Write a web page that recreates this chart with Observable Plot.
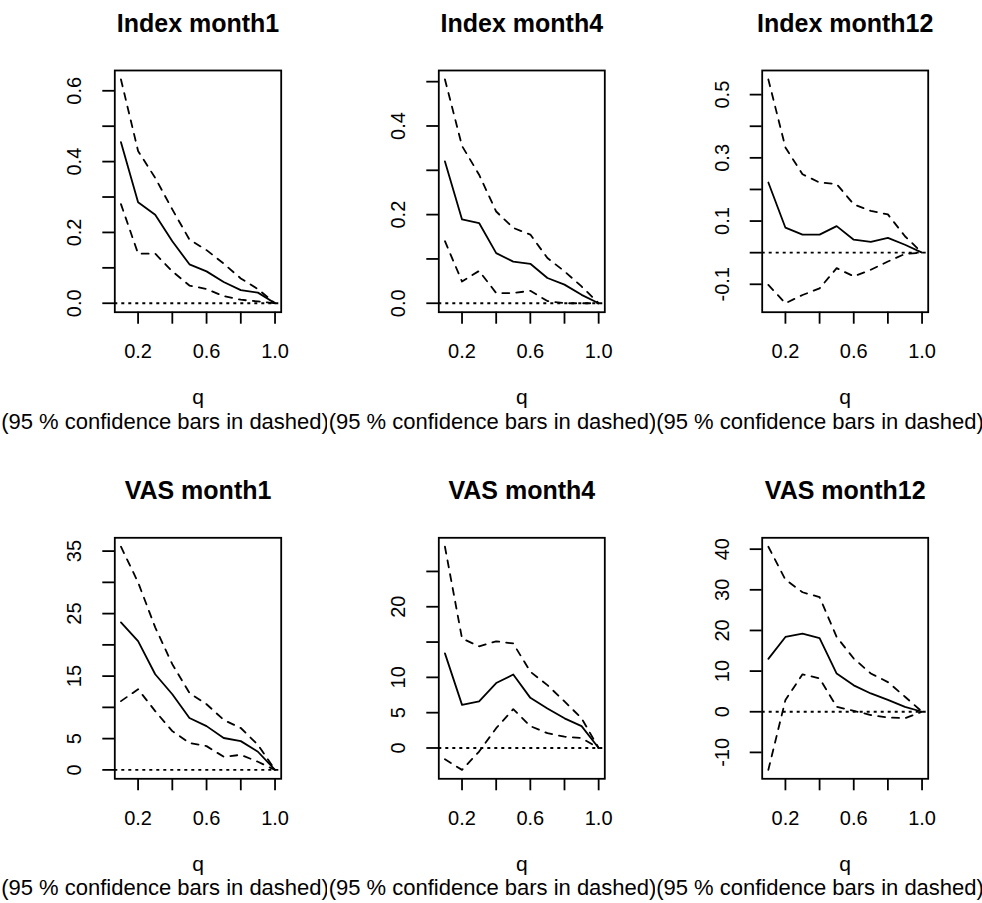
<!DOCTYPE html>
<html>
<head>
<meta charset="utf-8">
<script src="https://cdn.jsdelivr.net/npm/d3@7"></script>
<script src="https://cdn.jsdelivr.net/npm/@observablehq/plot@0.6"></script>
<style>
  html, body { margin: 0; padding: 0; background: #fff; }
  #wrap { position: relative; width: 982px; height: 903px; overflow: hidden; background: #fff; }
  #wrap svg { position: absolute; }
</style>
</head>
<body>
<div id="wrap"></div>
<script>
// ---------- data ----------
const q = [0.1, 0.2, 0.3, 0.4, 0.5, 0.6, 0.7, 0.8, 0.9, 1.0];

const titles = ["Index month1", "Index month4", "Index month12", "VAS month1", "VAS month4", "VAS month12"];
const xLabel = "q";
const subtitle = "(95 % confidence bars in dashed)";

const xTicks = [0.2, 0.4, 0.6, 0.8, 1.0];
const xTickLabels = ["0.2", "", "0.6", "", "1.0"];

// Index month1
const index1Est = [0.455, 0.285, 0.25, 0.175, 0.11, 0.09, 0.06, 0.037, 0.03, 0];
const index1Lo  = [0.28, 0.14, 0.14, 0.09, 0.05, 0.04, 0.02, 0.01, 0.005, 0];
const index1Hi  = [0.632, 0.43, 0.354, 0.265, 0.18, 0.15, 0.112, 0.07, 0.04, 0];
const index1Ticks = [0, 0.1, 0.2, 0.3, 0.4, 0.5, 0.6];
const index1LabelVals = [0, 0.2, 0.4, 0.6];
const index1Labels = ["0.0", "0.2", "0.4", "0.6"];

// Index month4
const index4Est = [0.32, 0.189, 0.181, 0.113, 0.094, 0.089, 0.057, 0.042, 0.019, 0];
const index4Lo  = [0.14, 0.049, 0.073, 0.023, 0.023, 0.028, 0.005, 0, 0, 0];
const index4Hi  = [0.505, 0.355, 0.29, 0.207, 0.17, 0.155, 0.102, 0.072, 0.038, 0];
const index4Ticks = [0, 0.1, 0.2, 0.3, 0.4, 0.5];
const index4LabelVals = [0, 0.2, 0.4];
const index4Labels = ["0.0", "0.2", "0.4"];

// Index month12
const index12Est = [0.222, 0.079, 0.057, 0.057, 0.084, 0.041, 0.034, 0.047, 0.025, 0];
const index12Lo  = [-0.102, -0.16, -0.134, -0.113, -0.049, -0.075, -0.054, -0.028, -0.004, 0];
const index12Hi  = [0.548, 0.333, 0.248, 0.222, 0.217, 0.153, 0.132, 0.121, 0.052, 0];
const index12Ticks = [-0.1, 0, 0.1, 0.2, 0.3, 0.4, 0.5];
const index12LabelVals = [-0.1, 0.1, 0.3, 0.5];
const index12Labels = ["-0.1", "0.1", "0.3", "0.5"];

// VAS month1
const vas1Est = [23.6, 20.6, 15.3, 12.1, 8.3, 7.0, 5.1, 4.6, 2.9, 0];
const vas1Lo  = [11, 12.9, 9.4, 6.2, 4.3, 3.8, 2.1, 2.4, 1.3, 0];
const vas1Hi  = [35.7, 30, 22.8, 16.9, 12.3, 10.5, 8.0, 6.7, 4.0, 0];
const vas1Ticks = [0, 5, 10, 15, 20, 25, 30, 35];
const vas1LabelVals = [0, 5, 15, 25, 35];
const vas1Labels = ["0", "5", "15", "25", "35"];

// VAS month4
const vas4Est = [13.4, 6.1, 6.6, 9.2, 10.4, 7.1, 5.6, 4.2, 3.1, 0];
const vas4Lo  = [-1.6, -3.1, -0.5, 2.8, 5.5, 3.1, 2.1, 1.6, 1.4, 0];
const vas4Hi  = [28.5, 15.5, 14.4, 15.1, 14.8, 10.8, 8.9, 6.6, 4.2, 0];
const vas4Ticks = [0, 5, 10, 15, 20, 25];
const vas4LabelVals = [0, 5, 10, 20];
const vas4Labels = ["0", "5", "10", "20"];

// VAS month12
const vas12Est = [13, 18.4, 19.2, 18.1, 9.4, 6.5, 4.5, 2.9, 1.2, 0];
const vas12Lo  = [-14.3, 2.9, 9.2, 8.2, 1.2, 0.2, -0.8, -1.4, -1.6, 0];
const vas12Hi  = [40.6, 32.5, 29.4, 28.2, 18.4, 13.1, 9.4, 7.3, 3.7, 0];
const vas12Ticks = [-10, 0, 10, 20, 30, 40];
const vas12LabelVals = [-10, 0, 10, 20, 30, 40];
const vas12Labels = ["-10", "0", "10", "20", "30", "40"];

// ---------- panels ----------
const panels = [
  {title: titles[0], est: index1Est, lo: index1Lo, hi: index1Hi, ticks: index1Ticks, labelVals: index1LabelVals, labels: index1Labels},
  {title: titles[1], est: index4Est, lo: index4Lo, hi: index4Hi, ticks: index4Ticks, labelVals: index4LabelVals, labels: index4Labels},
  {title: titles[2], est: index12Est, lo: index12Lo, hi: index12Hi, ticks: index12Ticks, labelVals: index12LabelVals, labels: index12Labels},
  {title: titles[3], est: vas1Est, lo: vas1Lo, hi: vas1Hi, ticks: vas1Ticks, labelVals: vas1LabelVals, labels: vas1Labels},
  {title: titles[4], est: vas4Est, lo: vas4Lo, hi: vas4Hi, ticks: vas4Ticks, labelVals: vas4LabelVals, labels: vas4Labels},
  {title: titles[5], est: vas12Est, lo: vas12Lo, hi: vas12Hi, ticks: vas12Ticks, labelVals: vas12LabelVals, labels: vas12Labels}
];

// ---------- layout (page pixels) ----------
const colFig = [[0, 327], [327, 328], [655, 327]];
const colBox = [[114.3, 280.7], [438.3, 604.3], [761.7, 927.7]];
const rowFig = [[0, 451], [451, 452]];
const rowBox = [[70, 311.7], [537.3, 778.3]];

const font = "'Liberation Sans', Arial, Helvetica, sans-serif";
const lw = 1.8;
const wrap = document.getElementById("wrap");

panels.forEach((p, i) => {
  const r = Math.floor(i / 3), c = i % 3;
  const [fl, fw] = colFig[c];
  const [ft, fh] = rowFig[r];
  const [bl, br] = colBox[c];
  const [bt, bb] = rowBox[r];

  const all = [...p.est, ...p.lo, ...p.hi];
  const ymin = d3.min(all), ymax = d3.max(all), ypad = (ymax - ymin) * 0.04;
  const xmin = d3.min(q), xmax = d3.max(q), xpad = (xmax - xmin) * 0.04;
  const rows = s => q.map((x, k) => ({q: x, v: s[k]}));
  const dxSub = fw / 2 + 1 - ((bl + br) / 2 - fl);

  const chart = Plot.plot({
    width: fw,
    height: fh,
    marginLeft: bl - fl,
    marginRight: fl + fw - br,
    marginTop: bt - ft,
    marginBottom: ft + fh - bb,
    x: {domain: [xmin - xpad, xmax + xpad]},
    y: {domain: [ymin - ypad, ymax + ypad]},
    style: {fontFamily: font, fontSize: "20px", color: "#000", background: "#fff", overflow: "hidden"},
    marks: [
      Plot.ruleY([0], {stroke: "#000", strokeWidth: lw, strokeDasharray: "3,4"}),
      Plot.line(rows(p.hi), {x: "q", y: "v", stroke: "#000", strokeWidth: lw, strokeDasharray: "7,7"}),
      Plot.line(rows(p.lo), {x: "q", y: "v", stroke: "#000", strokeWidth: lw, strokeDasharray: "7,7"}),
      Plot.line(rows(p.est), {x: "q", y: "v", stroke: "#000", strokeWidth: lw}),
      Plot.frame({stroke: "#000", strokeWidth: lw}),
      Plot.axisX({
        ticks: xTicks, tickSize: 12, tickPadding: 20, label: null,
        tickFormat: d => xTickLabels[xTicks.indexOf(d)],
        fontSize: 20, strokeWidth: lw, stroke: "#000"
      }),
      Plot.axisY({
        ticks: p.ticks, tickSize: 12, label: null,
        tickFormat: () => "", strokeWidth: lw, stroke: "#000"
      }),
      Plot.text(p.labelVals, {
        y: d => d, text: (d, k) => p.labels[k], frameAnchor: "left", dx: -40,
        rotate: -90, textAnchor: "middle", lineAnchor: "middle", fontSize: 20, fill: "#000"
      }),
      Plot.text([p.title], {
        text: d => d, frameAnchor: "top", dy: -38.5, lineAnchor: "bottom",
        fontSize: 25, fontWeight: "bold", fill: "#000"
      }),
      Plot.text([xLabel], {
        text: d => d, frameAnchor: "bottom", dy: 92, lineAnchor: "bottom", fontSize: 21, fill: "#000"
      }),
      Plot.text([subtitle], {
        text: d => d, frameAnchor: "bottom", dx: dxSub, dy: 116.5, lineAnchor: "bottom", fontSize: 22, fill: "#000"
      })
    ]
  });
  chart.style.left = fl + "px";
  chart.style.top = ft + "px";
  wrap.append(chart);
});
</script>
</body>
</html>
